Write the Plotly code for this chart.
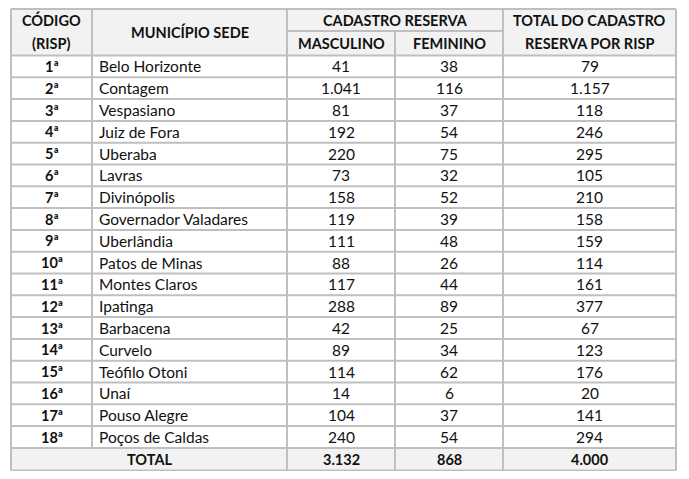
import plotly.graph_objects as go

# dados da tabela
codigos = ['1ª', '2ª', '3ª', '4ª', '5ª', '6ª', '7ª', '8ª', '9ª', '10ª',
           '11ª', '12ª', '13ª', '14ª', '15ª', '16ª', '17ª', '18ª']
municipios = ['Belo Horizonte', 'Contagem', 'Vespasiano', 'Juiz de Fora', 'Uberaba',
              'Lavras', 'Divinópolis', 'Governador Valadares', 'Uberlândia',
              'Patos de Minas', 'Montes Claros', 'Ipatinga', 'Barbacena', 'Curvelo',
              'Teófilo Otoni', 'Unaí', 'Pouso Alegre', 'Poços de Caldas']
masculino = [41, 1041, 81, 192, 220, 73, 158, 119, 111, 88, 117, 288, 42, 89, 114, 14, 104, 240]
feminino = [38, 116, 37, 54, 75, 32, 52, 39, 48, 26, 44, 89, 25, 34, 62, 6, 37, 54]
total_risp = [79, 1157, 118, 246, 295, 105, 210, 158, 159, 114, 161, 377, 67, 123, 176, 20, 141, 294]
total_masc = 3132
total_fem = 868
total_geral = 4000


def fmt(n):
    return f'{n:,}'.replace(',', '.')


W, H = 689, 479
off = 8   # margem padrão do <body> na página
cols = [11, 92, 287, 395, 503, 676]   # bordas das colunas
y_top, y_sub, y_head = 9, 31, 55.5
row_h = 21.8
y_tot = y_head + row_h * len(codigos)
y_bot = 470.5

linha = '#bfbfbf'
cinza = '#f2f2f2'
fonte = 'Lato'

shapes = []
annotations = []


def rect(x0, y0, x1, y1, cor):
    shapes.append(dict(type='rect', x0=x0, y0=y0, x1=x1, y1=y1, fillcolor=cor,
                       line=dict(width=0), layer='below'))


def seg(x0, y0, x1, y1):
    shapes.append(dict(type='line', x0=x0, y0=y0, x1=x1, y1=y1,
                       line=dict(color=linha, width=2)))


def txt(x, y, s, bold=False, anchor='center'):
    annotations.append(dict(x=x, y=y, text=f'<b>{s}</b>' if bold else s, showarrow=False,
                            xanchor=anchor, yanchor='middle',
                            font=dict(family=fonte, size=14.5 if bold else 15.5,
                                      color='#111111')))


# fundos
rect(cols[0], y_top, cols[-1], y_head, cinza)
rect(cols[0], y_tot, cols[-1], y_bot, cinza)

# linhas horizontais
seg(cols[0], y_top, cols[-1], y_top)
seg(cols[2], y_sub, cols[4], y_sub)
for i in range(len(codigos) + 1):
    y = y_head + row_h * i
    seg(cols[0], y, cols[-1], y)
seg(cols[0], y_bot, cols[-1], y_bot)

# linhas verticais
seg(cols[0], y_top, cols[0], y_bot)
seg(cols[1], y_top, cols[1], y_tot)
seg(cols[2], y_top, cols[2], y_bot)
seg(cols[3], y_sub, cols[3], y_bot)
seg(cols[4], y_top, cols[4], y_bot)
seg(cols[5], y_top, cols[5], y_bot)

mid = [(cols[i] + cols[i + 1]) / 2 for i in range(5)]

# cabeçalho
txt(mid[0], 20, 'CÓDIGO', True)
txt(mid[0], 43, '(RISP)', True)
txt(mid[1], 32, 'MUNICÍPIO SEDE', True)
txt((cols[2] + cols[4]) / 2, 20, 'CADASTRO RESERVA', True)
txt(mid[2], 43, 'MASCULINO', True)
txt(mid[3], 43, 'FEMININO', True)
txt(mid[4], 20, 'TOTAL DO CADASTRO', True)
txt(mid[4], 43, 'RESERVA POR RISP', True)

# corpo
for i in range(len(codigos)):
    yc = y_head + row_h * (i + 0.5)
    txt(mid[0], yc, codigos[i], True)
    txt(cols[1] + 5, yc, municipios[i], anchor='left')
    txt(mid[2], yc, fmt(masculino[i]))
    txt(mid[3], yc, fmt(feminino[i]))
    txt(mid[4], yc, fmt(total_risp[i]))

# total
yc = (y_tot + y_bot) / 2
txt((cols[0] + cols[2]) / 2, yc, 'TOTAL', True)
txt(mid[2], yc, fmt(total_masc), True)
txt(mid[3], yc, fmt(total_fem), True)
txt(mid[4], yc, fmt(total_geral), True)

fig = go.Figure()
fig.update_layout(width=W - 2 * off, height=H - 2 * off, margin=dict(l=0, r=0, t=0, b=0),
                  paper_bgcolor='white', plot_bgcolor='white',
                  xaxis=dict(range=[off, W - off], visible=False, fixedrange=True),
                  yaxis=dict(range=[H - off, off], visible=False, fixedrange=True),
                  shapes=shapes, annotations=annotations, showlegend=False)
fig.write_html('out.html')
